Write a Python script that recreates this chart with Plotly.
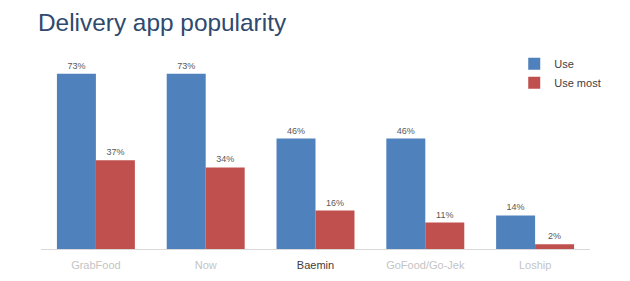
import plotly.graph_objects as go

categories = ["GrabFood", "Now", "Baemin", "GoFood/Go-Jek", "Loship"]
use_vals = [73, 73, 46, 46, 14]
use_most_vals = [37, 34, 16, 11, 2]
label_colors = ["#c4c4c4", "#c4c4c4", "#404040", "#c4c4c4", "#c4c4c4"]

ticktext = [f"<span style='color:{c}'>{t}</span>" for t, c in zip(categories, label_colors)]

fig = go.Figure()
fig.add_trace(go.Bar(
    name="Use", x=categories, y=use_vals,
    marker=dict(color="#4f81bd", line=dict(width=0)),
    text=[f"{v}%" for v in use_vals], textposition="outside",
    textfont=dict(size=9, color="#595959"), cliponaxis=False,
))
fig.add_trace(go.Bar(
    name="Use most", x=categories, y=use_most_vals,
    marker=dict(color="#c0504d", line=dict(width=0)),
    text=[f"{v}%" for v in use_most_vals], textposition="outside",
    textfont=dict(size=9, color="#595959"), cliponaxis=False,
))

fig.update_layout(
    width=630, height=281,
    margin=dict(l=41, r=40, t=57, b=32),
    paper_bgcolor="white", plot_bgcolor="white",
    font=dict(family="Liberation Sans, Arial, sans-serif", color="#404040"),
    title=dict(text="Delivery app popularity", x=38/630, xanchor="left",
               y=1 - 22/281, yanchor="middle",
               font=dict(size=24.4, color="#2e4a6e")),
    barmode="group", bargap=0.29, bargroupgap=0,
    showlegend=True,
    legend=dict(x=0.862, xanchor="left", y=1.04, yanchor="top",
                font=dict(size=11, color="#404040"),
                bgcolor="rgba(0,0,0,0)", itemwidth=30, tracegroupgap=2),
    xaxis=dict(tickmode="array", tickvals=categories, ticktext=ticktext,
               tickfont=dict(size=11), showline=True, linecolor="#d9d9d9",
               linewidth=1, ticks="", showgrid=False, ticklabelstandoff=6,
               automargin=False),
    yaxis=dict(range=[0, 80], visible=False, showgrid=False, zeroline=False,
               automargin=False),
)

fig.write_html("out.html")
